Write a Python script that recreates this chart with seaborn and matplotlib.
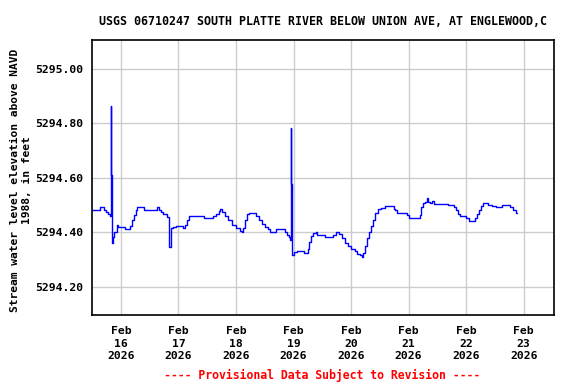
import matplotlib
matplotlib.use("Agg")
import matplotlib.pyplot as plt
import matplotlib.dates as mdates
import matplotlib.ticker as mticker
import numpy as np
import pandas as pd
import seaborn as sns

# Hours after 2026-02-16 00:00 and gage height (ft, NAVD88)
hours = [-12.0, -9.2, -8.8, -7.5, -7.1, -6.3, -5.4, -4.6, -4.2, -4.0, -3.75, -3.3, -2.9,
         -1.7, -1.25, 1.25, 1.7, 2.9, 3.75, 4.6, 5.4, 6.25, 6.7, 9.2, 9.6, 14.6, 15.0,
         15.9, 16.7, 17.5, 18.4, 19.2, 20.0, 20.25, 20.7, 20.9, 21.7, 23.0, 25.5, 25.9,
         26.7, 27.5, 28.4, 34.2, 34.6, 38.0, 38.4, 39.6, 40.9, 41.3, 42.2, 43.4, 44.7,
         46.3, 48.0, 49.7, 50.5, 50.9, 51.75, 52.6, 53.4, 55.5, 56.3, 57.6, 58.8, 60.1,
         61.35, 62.2, 63.9, 64.7, 67.6, 68.4, 69.3, 70.1, 70.5, 70.75, 70.95, 71.15,
         72.2, 73.5, 76.0, 76.4, 77.2, 78.0, 78.5, 79.3, 80.1, 81.4, 81.8, 85.1, 88.1,
         88.5, 89.7, 91.0, 92.2, 93.5, 94.7, 96.0, 97.7, 98.5, 99.7, 100.6, 101.0,
         101.8, 102.7, 103.5, 104.3, 105.2, 106.0, 107.3, 108.5, 110.2, 113.1, 113.9,
         114.4, 115.2, 118.5, 119.4, 120.2, 124.0, 124.8, 125.2, 126.0, 126.9, 127.7,
         128.1, 129.0, 129.8, 130.6, 136.1, 136.5, 138.1, 139.0, 139.8, 140.7, 141.5,
         142.7, 144.0, 145.2, 146.9, 147.7, 148.6, 149.4, 150.25, 151.1, 151.9, 153.2,
         154.8, 156.5, 158.2, 159.0, 161.5, 162.4, 163.6, 164.9, 165.3]
levels = [5294.482, 5294.482, 5294.492, 5294.492, 5294.482, 5294.475, 5294.467, 5294.461,
          5294.864, 5294.610, 5294.361, 5294.383, 5294.401, 5294.429, 5294.419, 5294.419,
          5294.412, 5294.412, 5294.423, 5294.445, 5294.463, 5294.482, 5294.493, 5294.493,
          5294.482, 5294.482, 5294.493, 5294.482, 5294.475, 5294.467, 5294.467, 5294.456,
          5294.416, 5294.347, 5294.408, 5294.415, 5294.419, 5294.423, 5294.423, 5294.416,
          5294.427, 5294.445, 5294.460, 5294.460, 5294.452, 5294.452, 5294.460, 5294.467,
          5294.478, 5294.486, 5294.475, 5294.460, 5294.445, 5294.427, 5294.416, 5294.406,
          5294.403, 5294.416, 5294.445, 5294.467, 5294.471, 5294.471, 5294.460, 5294.445,
          5294.430, 5294.419, 5294.412, 5294.401, 5294.401, 5294.412, 5294.412, 5294.401,
          5294.390, 5294.383, 5294.372, 5294.783, 5294.577, 5294.317, 5294.328, 5294.331,
          5294.331, 5294.324, 5294.324, 5294.339, 5294.364, 5294.386, 5294.397, 5294.400,
          5294.390, 5294.383, 5294.383, 5294.390, 5294.401, 5294.394, 5294.379, 5294.361,
          5294.350, 5294.339, 5294.331, 5294.320, 5294.317, 5294.309, 5294.324, 5294.350,
          5294.379, 5294.401, 5294.423, 5294.445, 5294.471, 5294.486, 5294.489, 5294.497,
          5294.497, 5294.486, 5294.482, 5294.471, 5294.471, 5294.463, 5294.452, 5294.452,
          5294.463, 5294.493, 5294.508, 5294.511, 5294.526, 5294.511, 5294.508, 5294.515,
          5294.504, 5294.504, 5294.500, 5294.500, 5294.493, 5294.482, 5294.467, 5294.460,
          5294.460, 5294.452, 5294.441, 5294.441, 5294.452, 5294.467, 5294.482, 5294.497,
          5294.508, 5294.508, 5294.500, 5294.497, 5294.493, 5294.493, 5294.500, 5294.500,
          5294.493, 5294.482, 5294.471, 5294.471]

ytick_vals = [5294.20, 5294.40, 5294.60, 5294.80, 5295.00]
xtick_days = ["2026-02-16", "2026-02-17", "2026-02-18", "2026-02-19",
              "2026-02-20", "2026-02-21", "2026-02-22", "2026-02-23"]
title = "USGS 06710247 SOUTH PLATTE RIVER BELOW UNION AVE, AT ENGLEWOOD,C"
ylabel = "Stream water level elevation above NAVD\n1988, in feet"
footer = "---- Provisional Data Subject to Revision ----"

base = pd.Timestamp("2026-02-16 00:00")
df = pd.DataFrame({"time": base + pd.to_timedelta(hours, unit="h"), "level": levels})

sns.set_style("white")
plt.rcParams["text.color"] = "black"
plt.rcParams["xtick.labelcolor"] = "black"
plt.rcParams["ytick.labelcolor"] = "black"
plt.rcParams["axes.labelcolor"] = "black"
mono = ["DejaVu Sans Mono"]

fig = plt.figure(figsize=(5.76, 3.84), dpi=100)
ax = fig.add_axes([92/576, 1-315/384, (554-92)/576, (315-40)/384])

sns.lineplot(data=df, x="time", y="level", ax=ax, color="#0000ff", lw=1.0,
             drawstyle="steps-post", estimator=None, sort=False)

ax.set_xlim(pd.Timestamp("2026-02-15 11:55"), pd.Timestamp("2026-02-23 12:40"))
ax.set_ylim(5294.097, 5295.106)

xt = pd.to_datetime(xtick_days)
ax.set_xticks(xt)
ax.set_xticklabels([d.strftime("%b\n%d\n%Y") for d in xt], family=mono,
                   fontweight="bold", fontsize=8.2, linespacing=1.32, color="black")
ax.set_yticks(ytick_vals)
ax.yaxis.set_major_formatter(mticker.FormatStrFormatter("%.2f"))
for lab in ax.get_yticklabels():
    lab.set_family(mono); lab.set_fontweight("bold"); lab.set_fontsize(8.2)
    lab.set_color("black")

ax.grid(True, color="#cccccc", lw=1.0)
ax.set_axisbelow(True)
ax.tick_params(axis="x", direction="in", length=4, color="#cccccc", pad=8)
ax.tick_params(axis="y", direction="in", length=4, color="#cccccc", pad=6)
for s in ax.spines.values():
    s.set_color("black"); s.set_linewidth(1.2)

ax.set_xlabel("")
ax.set_ylabel(ylabel, family=mono, fontweight="bold", fontsize=8.1,
              linespacing=1.3, labelpad=6, color="black")
ax.yaxis.set_label_coords(-60/462, 0.49)
ax.set_title(title, family=mono, fontweight="bold", fontsize=8.4, pad=11, color="black")
fig.text(322/576, 1-375/384, footer, color="red", family=mono, fontweight="bold",
         fontsize=8.3, ha="center", va="center")

fig.savefig("out.png", dpi=100)
